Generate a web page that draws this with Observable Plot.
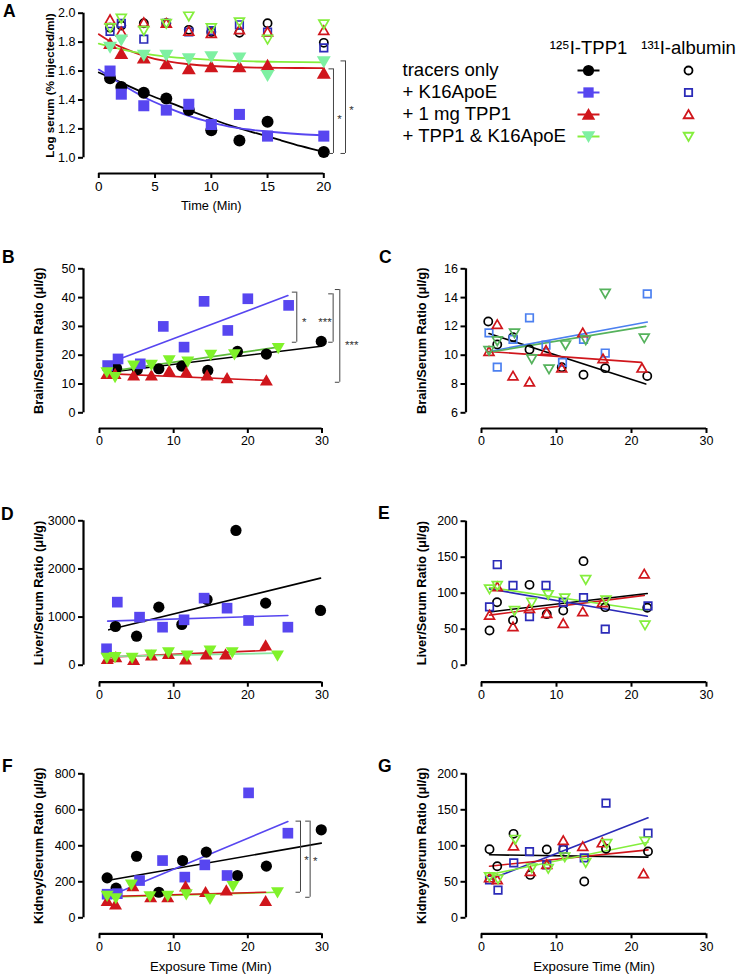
<!DOCTYPE html>
<html><head><meta charset="utf-8">
<script src="https://cdn.jsdelivr.net/npm/d3@7"></script>
<script src="https://cdn.jsdelivr.net/npm/@observablehq/plot@0.6"></script>
<style>
html,body{margin:0;padding:0;background:#fff;}
#fig{position:relative;width:739px;height:974px;overflow:hidden;background:#fff;font-family:"Liberation Sans",Arial,Helvetica,sans-serif;color:#000;}
.letter{position:absolute;font-weight:bold;font-size:17.5px;line-height:17px;}
</style></head>
<body><div id="fig"></div>
<script>
// ---------------- DATA ----------------
const series = ["tracers only", "+ K16ApoE", "+ 1 mg TPP1", "+ TPP1 & K16ApoE"];
const legendCols = ["\u00B9\u00B2\u2075I-TPP1", "\u00B9\u00B3\u00B9I-albumin"];

// Panel A : log serum vs time
const timeA = [1, 2, 4, 6, 8, 10, 12.5, 15, 20];
const aTppTracers = [1.55, 1.49, 1.45, 1.41, 1.33, 1.19, 1.12, 1.25, 1.04];
const aTppK16 = [1.60, 1.44, 1.36, 1.33, 1.37, 1.23, 1.30, 1.15, 1.15];
const aTppTPP1 = [1.79, 1.72, 1.69, 1.65, 1.615, 1.63, 1.63, 1.64, 1.585];
const aTppBoth = [1.765, 1.815, 1.71, 1.71, 1.685, 1.70, 1.69, 1.57, 1.665];
const aAlbTracers = [1.90, 1.915, 1.93, 1.93, 1.885, 1.87, 1.865, 1.93, 1.795];
const aAlbK16 = [1.875, 1.93, 1.82, 1.93, 1.87, 1.88, 1.92, 1.87, 1.76];
const aAlbTPP1 = [1.955, 1.87, 1.935, 1.93, 1.875, 1.86, 1.885, 1.87, 1.88];
const aAlbBoth = [1.90, 1.965, 1.88, 1.93, 1.98, 1.90, 1.94, 1.82, 1.925];
const aFitTime = [0, 1, 2, 4, 6, 8, 10, 12, 14, 16, 18, 20];
const aFitTracers = [1.59, 1.555, 1.52, 1.45, 1.39, 1.33, 1.27, 1.215, 1.17, 1.125, 1.08, 1.04];
const aFitK16 = [1.61, 1.56, 1.51, 1.42, 1.35, 1.29, 1.245, 1.21, 1.19, 1.175, 1.163, 1.155];
const aFitTPP1 = [1.855, 1.805, 1.765, 1.705, 1.668, 1.647, 1.635, 1.628, 1.624, 1.622, 1.621, 1.62];
const aFitBoth = [1.79, 1.77, 1.75, 1.72, 1.70, 1.687, 1.677, 1.67, 1.666, 1.663, 1.661, 1.66];
const aBrackets = [[20.86, 1.615, 1.03], [21.93, 1.67, 1.03]];
const aStars = [[21.4, 1.29, "*"], [22.46, 1.35, "*"]];

// Panel B : brain/serum, 125I-TPP1
const bTracers = [[2.3,15.5],[5.1,15.0],[8.0,15.3],[11.1,16.2],[14.6,14.7],[18.6,21.3],[22.5,20.4],[29.9,24.8]];
const bK16 = [[1.1,16.4],[2.5,18.7],[5.5,17.0],[8.6,30.0],[11.4,22.8],[14.1,38.7],[17.3,28.6],[20.0,39.6],[25.5,37.3]];
const bTPP1 = [[1.0,13.5],[2.1,13.5],[4.6,13.0],[7.0,13.0],[9.4,14.5],[11.7,14.1],[14.5,13.0],[17.2,12.0],[22.5,11.2]];
const bBoth = [[1.0,14.1],[2.1,12.4],[4.6,16.4],[7.0,16.7],[9.4,18.2],[11.9,17.8],[15.0,20.1],[18.2,20.3],[24.1,22.5]];
const bFitTracers = [[1.1,14.0],[29.9,23.1]];
const bFitK16 = [[2.5,18.5],[25.4,40.7]];
const bFitTPP1 = [[0.9,13.6],[22.8,11.2]];
const bFitBoth = [[1.1,14.3],[24.1,22.8]];
const bBrackets = [[26.6,41.9,24.5],[31.5,41.3,24.5],[32.4,42.8,10.6]];
const bStars = [[27.6,32.4,"*"],[30.4,32.6,"***"],[34.0,24.5,"***"]];

// Panel C : brain/serum, 131I-albumin
const cTracers = [[0.9,12.34],[2.1,10.75],[4.2,11.25],[6.4,10.4],[10.7,9.17],[13.6,8.64],[16.5,9.1],[22.1,8.55]];
const cK16 = [[1.0,11.55],[2.1,9.17],[4.2,11.1],[6.4,12.6],[8.6,10.7],[10.8,9.5],[13.6,11.1],[16.5,10.15],[22.1,14.26]];
const cTPP1 = [[1.0,10.26],[2.1,12.13],[4.2,8.55],[6.4,8.13],[8.6,10.33],[10.7,9.1],[13.5,11.55],[16.2,9.75],[21.4,9.1]];
const cBoth = [[1.0,10.33],[2.1,11.0],[4.4,11.55],[6.7,9.75],[9.0,9.05],[11.2,10.72],[13.9,11.07],[16.5,14.3],[21.7,11.2]];
const cFitTracers = [[1.0,11.5],[21.9,8.0]];
const cFitK16 = [[1.0,10.26],[22.1,12.3]];
const cFitTPP1 = [[0.8,10.26],[21.3,9.5]];
const cFitBoth = [[1.0,10.2],[21.9,12.0]];

// Panel D : liver/serum, 125I-TPP1
const dTracers = [[2.15,804],[5.0,603],[8.0,1206],[11.1,846],[14.5,1365],[18.4,2799],[22.4,1289],[29.8,1137]];
const dK16 = [[0.95,341],[2.4,1310],[5.4,998],[8.5,790],[11.4,943],[14.1,1393],[17.2,1185],[20.1,929],[25.4,790]];
const dTPP1 = [[1.05,132],[2.2,167],[4.6,110],[7.0,200],[9.3,236],[11.6,118],[14.4,222],[17.0,222],[22.4,409]];
const dBoth = [[1.0,153],[2.1,167],[4.4,153],[6.9,222],[9.3,270],[11.8,200],[14.9,305],[17.9,270],[24.0,200]];
const dFitTracers = [[1.25,735],[29.8,1809]];
const dFitK16 = [[1.1,915],[25.4,1033]];
const dFitTPP1 = [[1.0,167],[22.4,305]];
const dFitBoth = [[1.0,180],[24.0,250]];

// Panel E : liver/serum, 131I-albumin
const eTracers = [[1.07,48.2],[2.07,87.5],[4.2,62.6],[6.4,111.6],[8.7,70.9],[10.9,76],[13.6,144.5],[16.5,80.6],[22.1,79.7]];
const eK16 = [[1.07,81],[2.1,139.8],[4.2,110.7],[6.4,67.6],[8.6,110.7],[10.9,87.2],[13.6,93.8],[16.5,50],[22.2,82.5]];
const eTPP1 = [[1.07,69.4],[2.1,108.8],[4.2,53.3],[6.4,78.7],[8.7,71.8],[10.9,57.9],[13.5,74.1],[16.1,86.6],[21.7,126.6]];
const eBoth = [[1.07,106],[2.1,110.7],[4.4,75.9],[6.7,87.5],[8.9,98.1],[11.1,93.5],[13.9,119],[16.6,90.7],[21.8,55.9]];
const eFitTracers = [[1.07,74],[22.1,99.5]];
const eFitK16 = [[1.07,106],[22.1,68]];
const eFitTPP1 = [[1.07,69.5],[21.7,97]];
const eFitBoth = [[1.07,108],[22.1,76]];

// Panel F : kidney/serum, 125I-TPP1
const fTracers = [[1.03,222],[2.24,165],[5.0,342],[8.0,142],[11.2,318],[14.4,365],[18.6,235],[22.5,287],[29.9,489]];
const fK16 = [[1.03,131],[2.4,134],[5.4,207],[8.5,318],[11.5,226],[14.2,294],[17.2,235],[20.1,694],[25.4,470]];
const fTPP1 = [[1.03,93],[2.16,74],[4.5,176],[6.9,115],[9.2,115],[11.6,174],[14.3,143],[17.1,152],[22.4,93]];
const fBoth = [[1.03,122],[2.2,109],[4.3,185],[6.8,120],[9.2,122],[11.7,130],[14.9,106],[18.0,176],[24.0,141]];
const fFitTracers = [[1.03,207],[29.9,415]];
const fFitK16 = [[1.03,115],[25.4,535]];
const fFitTPP1 = [[1.03,118],[22.4,142]];
const fFitBoth = [[1.03,115],[24.0,142]];
const fBrackets = [[27.1,537,142],[28.4,537,114]];
const fStars = [[27.9,337,"*"],[29.1,328,"*"]];

// Panel G : kidney/serum, 131I-albumin
const gTracers = [[1.07,95.3],[2.1,71.7],[4.27,116.6],[6.5,59.6],[8.7,94.9],[10.9,94.9],[13.7,50.4],[16.6,95.8],[22.2,92.1]];
const gK16 = [[1.07,52.7],[2.2,38.4],[4.3,76.3],[6.4,92],[8.7,73.4],[10.9,94.9],[13.7,83.3],[16.6,159.3],[22.2,117.6]];
const gTPP1 = [[1.07,55.4],[2.1,52.7],[4.27,99.8],[6.5,64.2],[8.7,73.9],[10.9,107.2],[13.5,98.9],[16.1,104],[21.6,61.0]];
const gBoth = [[1.07,57.2],[2.2,54],[4.5,109],[6.7,69.4],[8.9,68.5],[11.1,84.7],[13.9,76.8],[16.7,103.2],[21.8,106.4]];
const gFitTracers = [[1.07,87.5],[22.2,84.3]];
const gFitK16 = [[1.07,53.2],[22.2,138.8]];
const gFitTPP1 = [[1.07,71.7],[22.2,94.4]];
const gFitBoth = [[1.07,60.1],[22.2,105]];

// tick values
const ticksA_x = [0, 5, 10, 15, 20];
const ticksA_y = [1.0, 1.2, 1.4, 1.6, 1.8, 2.0];
const ticksX = [0, 10, 20, 30];
const ticksB = [0, 10, 20, 30, 40, 50];
const ticksC = [6, 8, 10, 12, 14, 16];
const ticksD = [0, 1000, 2000, 3000];
const ticksE = [0, 50, 100, 150, 200];
const ticksF = [0, 200, 400, 600, 800];
const ticksG = [0, 50, 100, 150, 200];

// ---------------- STYLE ----------------
const C = {
  black: "#000000",
  blue: "#5746F0",
  blueDark: "#2B2BB8",
  blueLight: "#4C80F0",
  red: "#D0161C",
  mint: "#7EF0A2",
  lime: "#80F22A",
  limeLine: "#84EE3C",
  greenMid: "#55B25C",
  greenLineB: "#5DBA3A",
  mintLine: "#88E6A0"
};
const FONT = '"Liberation Sans", Arial, Helvetica, sans-serif';

const SYM = {
  circle: {draw(c, s) { const r = Math.sqrt(s / Math.PI); c.moveTo(r, 0); c.arc(0, 0, r, 0, 2 * Math.PI); }},
  square: {draw(c, s) { const r = Math.sqrt(s / Math.PI) * 0.92; c.rect(-r, -r, 2 * r, 2 * r); }},
  up: {draw(c, s) { const r = Math.sqrt(s / Math.PI); const w = r * 1.2, h = w * 1.732; c.moveTo(0, -h * 0.55); c.lineTo(w, h * 0.45); c.lineTo(-w, h * 0.45); c.closePath(); }},
  down: {draw(c, s) { const r = Math.sqrt(s / Math.PI); const w = r * 1.2, h = w * 1.732; c.moveTo(0, h * 0.55); c.lineTo(w, -h * 0.45); c.lineTo(-w, -h * 0.45); c.closePath(); }},
  hline: {draw(c, s) { c.moveTo(-11, 0); c.lineTo(11, 0); }}
};

const pts = (xs, ys) => xs.map((x, i) => [x, ys[i]]);
const X = d => d[0], Y = d => d[1];
function filled(data, sym, color, r) { return Plot.dot(data, {x: X, y: Y, symbol: sym, r, fill: color, stroke: "none"}); }
function open(data, sym, color, r = 4.1, sw = 1.7) { return Plot.dot(data, {x: X, y: Y, symbol: sym, r, fill: "none", stroke: color, strokeWidth: sw}); }
function fit(data, color, sw = 1.6, curve = "linear") { return Plot.line(data, {x: X, y: Y, stroke: color, strokeWidth: sw, curve}); }
function brackets(list, stars, tick) {
  return [
    Plot.ruleX(list, {x: d => d[0], y1: d => d[1], y2: d => d[2], stroke: "#444", strokeWidth: 1}),
    Plot.ruleY(list, {y: d => d[1], x1: d => d[0] - tick, x2: d => d[0], stroke: "#444", strokeWidth: 1}),
    Plot.ruleY(list, {y: d => d[2], x1: d => d[0] - tick, x2: d => d[0], stroke: "#444", strokeWidth: 1}),
    Plot.text(stars, {x: d => d[0], y: d => d[1], text: d => d[2], fontSize: 11.5, dy: 3, fill: "#333"})
  ];
}

const fig = document.getElementById("fig");

function makePanel(c) {
  const ml = c.fl - c.left, mr = c.left + c.width - c.fr, mt = c.ft - c.top, mb = c.top + c.height - c.fb;
  const inv = (p, d, r) => d[0] + (p - r[0]) * (d[1] - d[0]) / (r[1] - r[0]);
  const xLeft = inv(c.fl, c.xDomain, c.xPx);
  const yBottom = inv(c.fb, c.yDomain, c.yPx);
  const marks = [
    Plot.ruleX([xLeft], {y1: c.yDomain[0], y2: c.yDomain[1], stroke: "#000", strokeWidth: 2.2}),
    Plot.ruleY([yBottom], {x1: c.xDomain[0], x2: c.xDomain[1], stroke: "#000", strokeWidth: 2.2}),
    Plot.axisY({ticks: c.yTicks, tickFormat: c.yFmt, tickSize: 5, tickPadding: 3, strokeWidth: 2, fontSize: c.yTickFont, label: null}),
    Plot.axisX({ticks: c.xTicks, tickFormat: d3.format("d"), tickSize: 5, tickPadding: 3, strokeWidth: 2, fontSize: c.xTickFont, label: null}),
    Plot.text([c.yLabel], {y: [(c.yDomain[0] + c.yDomain[1]) / 2], frameAnchor: "left", textAnchor: "middle", lineAnchor: "middle", rotate: -90, dx: -c.yLabelOffset, fontWeight: "bold", fontSize: c.yLabelFont, text: d => d})
  ];
  if (c.xLabel) marks.push(Plot.text([c.xLabel], {x: [(c.xDomain[0] + c.xDomain[1]) / 2], frameAnchor: "bottom", textAnchor: "middle", lineAnchor: "middle", dy: c.xLabelOffset, fontSize: c.xLabelFont, text: d => d}));
  marks.push(...c.marks);
  const svg = Plot.plot({
    width: c.width, height: c.height,
    marginLeft: ml, marginRight: mr, marginTop: mt, marginBottom: mb,
    x: {domain: c.xDomain, range: c.xPx.map(p => p - c.left)},
    y: {domain: c.yDomain, range: c.yPx.map(p => p - c.top)},
    style: {fontFamily: FONT, fontSize: "12px", color: "#000", background: "transparent", overflow: "visible"},
    marks
  });
  svg.style.position = "absolute";
  svg.style.left = c.left + "px";
  svg.style.top = c.top + "px";
  fig.appendChild(svg);
}

const LEFT = {left: 0, width: 369, fl: 83, fr: 340, xDomain: [0, 30], xPx: [99, 321.5], xTicks: ticksX, yTickFont: 12.5, xTickFont: 12.5, yLabelOffset: 44.5, yLabelFont: 12.8, yFmt: d3.format("d")};
const RIGHT = {left: 369, width: 370, fl: 465.5, fr: 725, xDomain: [0, 30], xPx: [481, 706], xTicks: ticksX, yTickFont: 12.5, xTickFont: 12.5, yLabelOffset: 44, yLabelFont: 12.8, yFmt: d3.format("d")};

// Panel A
makePanel({
  left: 0, top: 0, width: 369, height: 215, fl: 83, fr: 330, ft: 5, fb: 173,
  xDomain: [0, 20], xPx: [98.3, 323.3], yDomain: [1, 2], yPx: [157.3, 12.7],
  xTicks: ticksA_x, yTicks: ticksA_y, yFmt: d3.format(".1f"), yTickFont: 12.5, xTickFont: 13.5,
  yLabel: "Log serum (% injected/ml)", yLabelOffset: 33, yLabelFont: 11.6,
  xLabel: "Time (Min)", xLabelOffset: 32, xLabelFont: 12.8,
  marks: [
    open(pts(timeA, aAlbTracers), SYM.circle, C.black, 4.1),
    open(pts(timeA, aAlbK16), SYM.square, C.blueDark, 4.1),
    open(pts(timeA, aAlbTPP1), SYM.up, C.red, 4.1),
    open(pts(timeA, aAlbBoth), SYM.down, C.limeLine, 4.1),
    fit(pts(aFitTime, aFitTracers), C.black, 1.8, "natural"),
    fit(pts(aFitTime, aFitK16), C.blue, 1.8, "natural"),
    fit(pts(aFitTime, aFitTPP1), C.red, 1.8, "natural"),
    fit(pts(aFitTime, aFitBoth), C.limeLine, 1.8, "natural"),
    filled(pts(timeA, aTppTracers), SYM.circle, C.black, 6),
    filled(pts(timeA, aTppK16), SYM.square, C.blue, 6),
    filled(pts(timeA, aTppTPP1), SYM.up, C.red, 5.8),
    filled(pts(timeA, aTppBoth), SYM.down, C.mint, 5.8),
    ...brackets(aBrackets, aStars, 0.4)
  ]
});

// Panel B
makePanel({...LEFT, top: 228, height: 225, ft: 250, fb: 428,
  yDomain: [0, 50], yPx: [412.3, 268.3], yTicks: ticksB,
  yLabel: "Brain/Serum Ratio (\u03BCl/g)",
  marks: [
    fit(bFitTracers, C.black), fit(bFitK16, C.blue), fit(bFitTPP1, C.red), fit(bFitBoth, C.greenLineB),
    filled(bTracers, SYM.circle, C.black, 5.6),
    filled(bK16, SYM.square, C.blue, 5.8),
    filled(bTPP1, SYM.up, C.red, 5.4),
    filled(bBoth, SYM.down, C.lime, 5.4),
    ...brackets(bBrackets, bStars, 0.6)
  ]
});

// Panel C
makePanel({...RIGHT, top: 228, height: 225, ft: 250, fb: 428,
  yDomain: [6, 16], yPx: [412.3, 268.3], yTicks: ticksC,
  yLabel: "Brain/Serum Ratio (\u03BCl/g)",
  marks: [
    fit(cFitTracers, C.black), fit(cFitK16, C.blueLight), fit(cFitTPP1, C.red), fit(cFitBoth, C.greenMid),
    open(cTracers, SYM.circle, C.black),
    open(cK16, SYM.square, C.blueLight),
    open(cTPP1, SYM.up, C.red),
    open(cBoth, SYM.down, C.greenMid)
  ]
});

// Panel D
makePanel({...LEFT, top: 482, height: 225, ft: 505, fb: 681.7,
  yDomain: [0, 3000], yPx: [664.7, 520.3], yTicks: ticksD,
  yLabel: "Liver/Serum Ratio (\u03BCl/g)",
  marks: [
    fit(dFitTracers, C.black), fit(dFitK16, C.blue), fit(dFitTPP1, C.red), fit(dFitBoth, C.mintLine),
    filled(dTracers, SYM.circle, C.black, 5.6),
    filled(dK16, SYM.square, C.blue, 5.8),
    filled(dTPP1, SYM.up, C.red, 5.4),
    filled(dBoth, SYM.down, C.lime, 5.4)
  ]
});

// Panel E
makePanel({...RIGHT, top: 482, height: 225, ft: 505, fb: 681.7,
  yDomain: [0, 200], yPx: [664.7, 520.7], yTicks: ticksE,
  yLabel: "Liver/Serum Ratio (\u03BCl/g)",
  marks: [
    fit(eFitTPP1, C.red), fit(eFitTracers, C.black), fit(eFitK16, C.blueDark), fit(eFitBoth, C.limeLine),
    open(eTracers, SYM.circle, C.black),
    open(eK16, SYM.square, C.blueDark),
    open(eTPP1, SYM.up, C.red),
    open(eBoth, SYM.down, C.limeLine)
  ]
});

// Panel F
makePanel({...LEFT, top: 735, height: 239, ft: 757, fb: 933.3,
  yDomain: [0, 800], yPx: [917.3, 773.3], yTicks: ticksF,
  yLabel: "Kidney/Serum Ratio (\u03BCl/g)",
  xLabel: "Exposure Time (Min)", xLabelOffset: 33, xLabelFont: 13.2,
  marks: [
    fit(fFitTracers, C.black), fit(fFitK16, C.blue), fit(fFitBoth, C.limeLine), fit(fFitTPP1, C.red),
    filled(fTracers, SYM.circle, C.black, 5.6),
    filled(fK16, SYM.square, C.blue, 5.8),
    filled(fTPP1, SYM.up, C.red, 5.4),
    filled(fBoth, SYM.down, C.lime, 5.4),
    ...brackets(fBrackets, fStars, 0.6)
  ]
});

// Panel G
makePanel({...RIGHT, top: 735, height: 239, ft: 757, fb: 933.3,
  yDomain: [0, 200], yPx: [917.3, 773.3], yTicks: ticksG,
  yLabel: "Kidney/Serum Ratio (\u03BCl/g)",
  xLabel: "Exposure Time (Min)", xLabelOffset: 33, xLabelFont: 13.2,
  marks: [
    fit(gFitTracers, C.black), fit(gFitK16, C.blueDark), fit(gFitTPP1, C.red), fit(gFitBoth, C.limeLine),
    open(gTracers, SYM.circle, C.black),
    open(gK16, SYM.square, C.blueDark),
    open(gTPP1, SYM.up, C.red),
    open(gBoth, SYM.down, C.limeLine)
  ]
});

// Legend
{
  const rowStyle = {
    "tracers only": {sym: SYM.circle, fill: C.black, line: C.black, open: C.black},
    "+ K16ApoE": {sym: SYM.square, fill: C.blue, line: C.blue, open: C.blueDark},
    "+ 1 mg TPP1": {sym: SYM.up, fill: C.red, line: C.red, open: C.red},
    "+ TPP1 & K16ApoE": {sym: SYM.down, fill: C.mint, line: C.limeLine, open: C.limeLine}
  };
  const marks = [
    Plot.text(series, {y: d => d, frameAnchor: "left", dx: 32, textAnchor: "start", fontSize: 18.6, text: d => d}),
    Plot.text(legendCols, {x: d => d, y: () => "header", fontSize: 18.5, text: d => d})
  ];
  for (const s of series) {
    const st = rowStyle[s];
    marks.push(Plot.dot([s], {x: () => legendCols[0], y: d => d, symbol: SYM.hline, r: 5, fill: "none", stroke: st.line, strokeWidth: 2}));
    marks.push(Plot.dot([s], {x: () => legendCols[0], y: d => d, symbol: st.sym, r: 5.6, fill: st.fill, stroke: "none"}));
    marks.push(Plot.dot([s], {x: () => legendCols[1], y: d => d, symbol: st.sym, r: 4, fill: "none", stroke: st.open, strokeWidth: 1.8}));
  }
  const svg = Plot.plot({
    width: 369, height: 125, margin: 0,
    x: {type: "point", domain: legendCols, range: [218, 318], padding: 0, axis: null},
    y: {type: "point", domain: ["header", ...series], range: [17, 106], padding: 0, axis: null},
    style: {fontFamily: FONT, fontSize: "18px", color: "#000", background: "transparent", overflow: "visible"},
    marks
  });
  svg.style.position = "absolute";
  svg.style.left = "370px";
  svg.style.top = "30px";
  fig.appendChild(svg);
}

// Panel letters
[["A", 3, 2.5], ["B", 2, 249], ["C", 379, 249], ["D", 1, 505.5], ["E", 378, 505], ["F", 2, 757.5], ["G", 378, 757.5]].forEach(([t, x, y]) => {
  const el = document.createElement("div");
  el.className = "letter";
  el.textContent = t;
  el.style.left = x + "px";
  el.style.top = y + "px";
  fig.appendChild(el);
});
</script>
</body></html>
